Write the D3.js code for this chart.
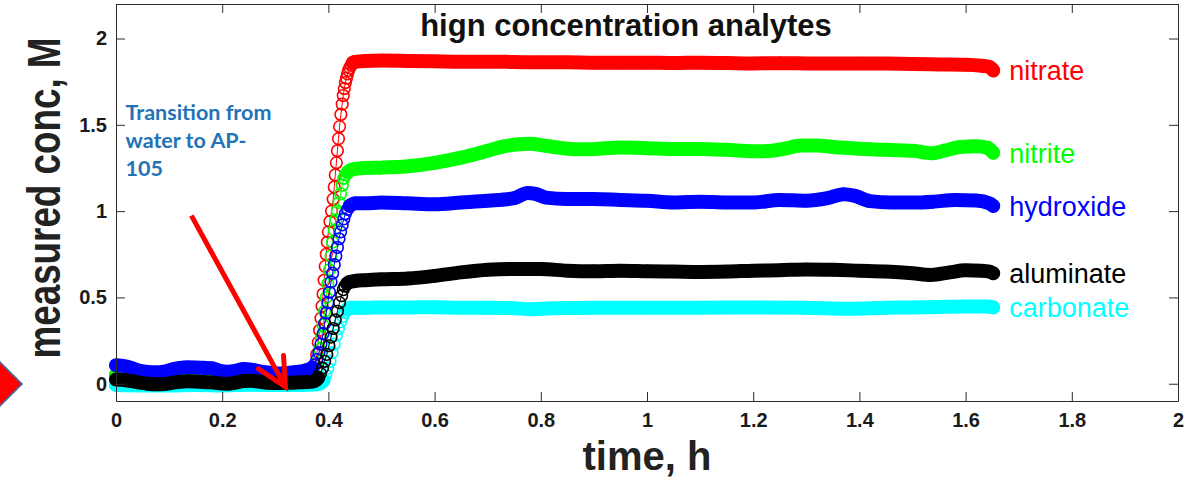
<!DOCTYPE html>
<html>
<head>
<meta charset="utf-8">
<script src="https://cdn.jsdelivr.net/npm/d3@7"></script>
<style>
  body { margin: 0; background: #fff; }
  svg { display: block; }
  text { font-family: "Liberation Sans", Arial, sans-serif; }
</style>
</head>
<body>
<div id="chart"></div>
<script>
const width = 1202, height = 481;
const margin = {left: 116, right: 24, top: 4, bottom: 80};

// axis ticks
const timeTicks = [0, 0.2, 0.4, 0.6, 0.8, 1, 1.2, 1.4, 1.6, 1.8, 2];
const concTicks = [0, 0.5, 1, 1.5, 2];

// measured concentrations, [time h, conc M]
const nitrate = [
  [0, 0.05], [0.05, 0.04], [0.1, 0.05], [0.15, 0.06], [0.2, 0.05], [0.25, 0.06], [0.3, 0.05], [0.36, 0.05],
  [0.366, 0.05], [0.371, 0.07], [0.375, 0.11], [0.378, 0.17], [0.381, 0.24], [0.3835, 0.31], [0.386, 0.38],
  [0.388, 0.45], [0.39, 0.52], [0.392, 0.6], [0.394, 0.68], [0.396, 0.75], [0.398, 0.82], [0.4, 0.88],
  [0.403, 0.94], [0.406, 1.0], [0.409, 1.07], [0.411, 1.14], [0.413, 1.21], [0.415, 1.28], [0.417, 1.35],
  [0.419, 1.42], [0.421, 1.49], [0.4235, 1.56], [0.426, 1.62], [0.428, 1.67], [0.43, 1.71], [0.432, 1.745],
  [0.434, 1.77], [0.436, 1.795], [0.438, 1.815], [0.44, 1.83], [0.443, 1.845], [0.446, 1.86], [0.45, 1.865],
  [0.47, 1.87], [0.5, 1.872], [0.55, 1.87], [0.6, 1.868], [0.65, 1.866], [0.7, 1.866], [0.75, 1.864],
  [0.8, 1.862], [0.85, 1.862], [0.9, 1.86], [0.95, 1.86], [1.0, 1.86], [1.05, 1.858], [1.1, 1.86],
  [1.15, 1.858], [1.2, 1.856], [1.25, 1.857], [1.3, 1.856], [1.35, 1.855], [1.4, 1.856], [1.45, 1.855],
  [1.5, 1.852], [1.55, 1.85], [1.6, 1.848], [1.63, 1.842], [1.645, 1.835], [1.652, 1.815]
];
const nitrite = [
  [0, 0.05], [0.05, 0.05], [0.1, 0.05], [0.15, 0.06], [0.2, 0.05], [0.25, 0.06], [0.3, 0.05], [0.36, 0.05],
  [0.366, 0.05], [0.372, 0.06], [0.377, 0.09], [0.381, 0.14], [0.384, 0.2], [0.387, 0.27], [0.39, 0.34],
  [0.393, 0.42], [0.396, 0.5], [0.399, 0.58], [0.402, 0.66], [0.405, 0.74], [0.408, 0.82], [0.411, 0.89],
  [0.414, 0.95], [0.417, 1.0], [0.42, 1.05], [0.423, 1.1], [0.426, 1.15], [0.429, 1.19], [0.432, 1.21],
  [0.436, 1.225], [0.44, 1.235], [0.45, 1.245], [0.47, 1.25], [0.5, 1.252], [0.55, 1.26], [0.6, 1.28],
  [0.65, 1.31], [0.7, 1.35], [0.73, 1.375], [0.76, 1.388], [0.78, 1.39], [0.81, 1.378], [0.84, 1.365],
  [0.87, 1.358], [0.9, 1.36], [0.95, 1.368], [1.0, 1.365], [1.05, 1.36], [1.1, 1.36], [1.15, 1.355],
  [1.2, 1.347], [1.23, 1.348], [1.26, 1.362], [1.29, 1.38], [1.32, 1.38], [1.35, 1.372], [1.4, 1.362],
  [1.45, 1.355], [1.5, 1.35], [1.535, 1.335], [1.56, 1.35], [1.59, 1.372], [1.62, 1.376], [1.64, 1.368],
  [1.652, 1.338]
];
const hydroxide = [
  [0, 0.107], [0.01, 0.105], [0.02, 0.1], [0.03, 0.09], [0.045, 0.075], [0.06, 0.068], [0.075, 0.066],
  [0.09, 0.07], [0.105, 0.082], [0.12, 0.092], [0.135, 0.095], [0.15, 0.094], [0.165, 0.092], [0.18, 0.09],
  [0.195, 0.075], [0.21, 0.07], [0.225, 0.075], [0.24, 0.085], [0.255, 0.082], [0.27, 0.072], [0.285, 0.065],
  [0.3, 0.06], [0.315, 0.06], [0.33, 0.065], [0.345, 0.07], [0.355, 0.075],
  [0.36, 0.08], [0.365, 0.085], [0.37, 0.095], [0.374, 0.11], [0.378, 0.14], [0.382, 0.18], [0.386, 0.23],
  [0.39, 0.29], [0.393, 0.35], [0.396, 0.41], [0.399, 0.47], [0.402, 0.53], [0.405, 0.59], [0.408, 0.64],
  [0.411, 0.69], [0.414, 0.74], [0.417, 0.79], [0.42, 0.84], [0.423, 0.88], [0.426, 0.92], [0.429, 0.955],
  [0.432, 0.985], [0.436, 1.01], [0.44, 1.03], [0.445, 1.04], [0.45, 1.045],
  [0.47, 1.045], [0.5, 1.05], [0.55, 1.045], [0.6, 1.04], [0.65, 1.05], [0.7, 1.06], [0.75, 1.075],
  [0.775, 1.105], [0.79, 1.1], [0.81, 1.078], [0.85, 1.07], [0.9, 1.07], [0.95, 1.065], [1.0, 1.06],
  [1.05, 1.05], [1.1, 1.055], [1.15, 1.05], [1.2, 1.05], [1.25, 1.065], [1.3, 1.06], [1.34, 1.075],
  [1.37, 1.098], [1.39, 1.09], [1.42, 1.058], [1.46, 1.05], [1.5, 1.05], [1.54, 1.055], [1.58, 1.065],
  [1.62, 1.062], [1.645, 1.045], [1.652, 1.03]
];
const carbonate = [
  [0, -0.008], [0.05, -0.01], [0.1, -0.01], [0.15, -0.008], [0.2, -0.01], [0.25, -0.006], [0.3, -0.008],
  [0.35, -0.007], [0.37, -0.005], [0.38, -0.003], [0.386, 0.005], [0.391, 0.02], [0.395, 0.05], [0.399, 0.09],
  [0.403, 0.13], [0.407, 0.18], [0.411, 0.23], [0.415, 0.28], [0.419, 0.32], [0.423, 0.36], [0.427, 0.39],
  [0.431, 0.415], [0.435, 0.43], [0.44, 0.44], [0.45, 0.44], [0.47, 0.44], [0.5, 0.442], [0.55, 0.442],
  [0.6, 0.443], [0.65, 0.44], [0.7, 0.44], [0.75, 0.438], [0.78, 0.432], [0.82, 0.437], [0.9, 0.44],
  [1.0, 0.44], [1.1, 0.44], [1.2, 0.442], [1.3, 0.44], [1.38, 0.435], [1.45, 0.44], [1.5, 0.442],
  [1.55, 0.445], [1.6, 0.447], [1.64, 0.447], [1.652, 0.442]
];
const aluminate = [
  [0, 0.025], [0.015, 0.022], [0.03, 0.015], [0.045, 0.006], [0.06, 0.0], [0.075, -0.003], [0.09, -0.002],
  [0.105, 0.005], [0.12, 0.012], [0.135, 0.015], [0.15, 0.013], [0.165, 0.01], [0.18, 0.008], [0.195, 0.002],
  [0.21, 0.0], [0.225, 0.006], [0.24, 0.016], [0.255, 0.018], [0.27, 0.012], [0.285, 0.006], [0.3, 0.004],
  [0.315, 0.005], [0.33, 0.006], [0.345, 0.008], [0.36, 0.01], [0.37, 0.012],
  [0.376, 0.02], [0.381, 0.035], [0.385, 0.06], [0.389, 0.09], [0.393, 0.13], [0.397, 0.17], [0.401, 0.22],
  [0.405, 0.27], [0.409, 0.32], [0.413, 0.37], [0.417, 0.42], [0.421, 0.47], [0.425, 0.51], [0.428, 0.545],
  [0.431, 0.565], [0.435, 0.58], [0.44, 0.59], [0.45, 0.595], [0.47, 0.6], [0.5, 0.605], [0.55, 0.61],
  [0.6, 0.625], [0.65, 0.645], [0.7, 0.66], [0.75, 0.665], [0.8, 0.665], [0.85, 0.655], [0.9, 0.652],
  [0.95, 0.655], [1.0, 0.652], [1.05, 0.65], [1.1, 0.648], [1.15, 0.65], [1.2, 0.655], [1.25, 0.658],
  [1.3, 0.662], [1.35, 0.66], [1.4, 0.655], [1.45, 0.65], [1.5, 0.64], [1.535, 0.63], [1.57, 0.645],
  [1.6, 0.657], [1.63, 0.655], [1.645, 0.65], [1.652, 0.64]
];

// drawing order as in the original plot
const seriesNames = ["nitrate", "nitrite", "hydroxide", "carbonate", "aluminate"];
const seriesData = [nitrate, nitrite, hydroxide, carbonate, aluminate];
const seriesColors = ["#ff0000", "#00ff00", "#0000ff", "#00ffff", "#000000"];

// annotation (time, conc)
const arrowShaft = [[0.142, 0.974], [0.319, -0.018]];
const arrowHead = [[0.3155, 0.164], [0.319, -0.018], [0.268, 0.087]];
const noteLines = ["Transition from", "water to AP-", "105"];
const notePos = [0.018, 1.53];

const svg = d3.select("#chart").append("svg")
  .attr("width", width)
  .attr("height", height);

svg.append("rect").attr("width", width).attr("height", height).attr("fill", "#fff");

const x = d3.scaleLinear()
  .domain([0, 2])
  .range([margin.left, width - margin.right]);

const y = d3.scaleLinear()
  .domain([-0.1, 2.2])
  .range([height - margin.bottom, margin.top]);

// series: thin line, dense plateaus as a thick band, circle markers
const line = d3.line().x(d => x(d[0])).y(d => y(d[1]));
const band = d3.line().x(d => x(d[0])).y(d => y(d[1])).curve(d3.curveMonotoneX);

function flatRuns(data) {
  const runs = [];
  let cur = [data[0]];
  for (let i = 1; i < data.length; i++) {
    const dx = x(data[i][0]) - x(data[i - 1][0]);
    const dy = Math.abs(y(data[i][1]) - y(data[i - 1][1]));
    if (dy < dx) {
      cur.push(data[i]);
    } else {
      if (cur.length > 1) runs.push(cur);
      cur = [data[i]];
    }
  }
  if (cur.length > 1) runs.push(cur);
  return runs;
}

seriesData.forEach((data, i) => {
  const g = svg.append("g").attr("class", "series " + seriesNames[i]);
  const col = seriesColors[i];

  g.selectAll("path.band")
    .data(flatRuns(data))
    .enter().append("path")
    .attr("class", "band")
    .attr("d", band)
    .attr("fill", "none")
    .attr("stroke", col)
    .attr("stroke-width", 14)
    .attr("stroke-linecap", "round")
    .attr("stroke-linejoin", "round");

  g.append("path")
    .attr("d", line(data))
    .attr("fill", "none")
    .attr("stroke", col)
    .attr("stroke-width", 1);

  g.selectAll("circle")
    .data(data)
    .enter().append("circle")
    .attr("cx", d => x(d[0]))
    .attr("cy", d => y(d[1]))
    .attr("r", 5.8)
    .attr("fill", "none")
    .attr("stroke", col)
    .attr("stroke-width", 1.6);

  const last = data[data.length - 1];
  svg.append("text")
    .attr("x", x(last[0]) + 16)
    .attr("y", y(last[1]))
    .attr("dy", "0.36em")
    .attr("fill", col)
    .style("font-size", "27px")
    .text(seriesNames[i]);
});

// axes, MATLAB style: ticks inside, box all round
const axisColor = "#2b2b2b";
function styleAxis(g) {
  g.selectAll("path.domain").attr("stroke", axisColor);
  g.selectAll(".tick line").attr("stroke", axisColor);
  g.selectAll(".tick text")
    .attr("fill", "#1a1a1a")
    .style("font-size", "20px")
    .style("font-weight", "bold")
    .style("font-family", "'Liberation Sans', Arial, sans-serif");
}

svg.append("g")
  .attr("transform", `translate(0,${y(-0.1)})`)
  .call(d3.axisBottom(x).tickValues(timeTicks).tickFormat(d3.format("")).tickSize(-9).tickSizeOuter(0).tickPadding(12))
  .call(styleAxis);

svg.append("g")
  .attr("transform", `translate(0,${y(2.2)})`)
  .call(d3.axisTop(x).tickValues(timeTicks).tickFormat("").tickSize(-9).tickSizeOuter(0))
  .call(styleAxis);

svg.append("g")
  .attr("transform", `translate(${x(0)},0)`)
  .call(d3.axisLeft(y).tickValues(concTicks).tickFormat(d3.format("")).tickSize(-9).tickSizeOuter(0).tickPadding(9))
  .call(styleAxis);

svg.append("g")
  .attr("transform", `translate(${x(2)},0)`)
  .call(d3.axisRight(y).tickValues(concTicks).tickFormat("").tickSize(-9).tickSizeOuter(0))
  .call(styleAxis);

// titles
svg.append("text")
  .attr("x", 626)
  .attr("y", 36)
  .attr("text-anchor", "middle")
  .style("font-size", "31px")
  .style("font-weight", "bold")
  .attr("fill", "#111")
  .text("hign concentration analytes");

svg.append("text")
  .attr("x", x(1))
  .attr("y", 470)
  .attr("text-anchor", "middle")
  .style("font-size", "40px")
  .style("font-weight", "bold")
  .attr("fill", "#222")
  .text("time, h");

svg.append("text")
  .attr("transform", "translate(60,198) rotate(-90) scale(0.8,1)")
  .attr("text-anchor", "middle")
  .style("font-size", "46px")
  .style("font-weight", "bold")
  .attr("fill", "#222")
  .text("measured conc, M");

// annotation
svg.append("path")
  .attr("d", line(arrowShaft))
  .attr("fill", "none")
  .attr("stroke", "#ff0000")
  .attr("stroke-width", 5);

svg.append("path")
  .attr("d", line(arrowHead))
  .attr("fill", "none")
  .attr("stroke", "#ff0000")
  .attr("stroke-width", 5)
  .attr("stroke-linecap", "round")
  .attr("stroke-linejoin", "miter");

svg.append("g").selectAll("text")
  .data(noteLines)
  .enter().append("text")
  .attr("x", x(notePos[0]))
  .attr("y", (d, i) => y(notePos[1]) + i * 28)
  .attr("fill", "#2272b8")
  .style("font-family", "Lato, 'Open Sans', sans-serif")
  .style("font-size", "21.5px")
  .style("font-weight", "bold")
  .text(d => d);

// slide marker at left edge
svg.append("polygon")
  .attr("points", [[-22, 384], [0, 362], [22, 384], [0, 406]].map(p => p.join(",")).join(" "))
  .attr("fill", "#ff0000")
  .attr("stroke", "#2e75b6")
  .attr("stroke-width", 1.5);
</script>
</body>
</html>
